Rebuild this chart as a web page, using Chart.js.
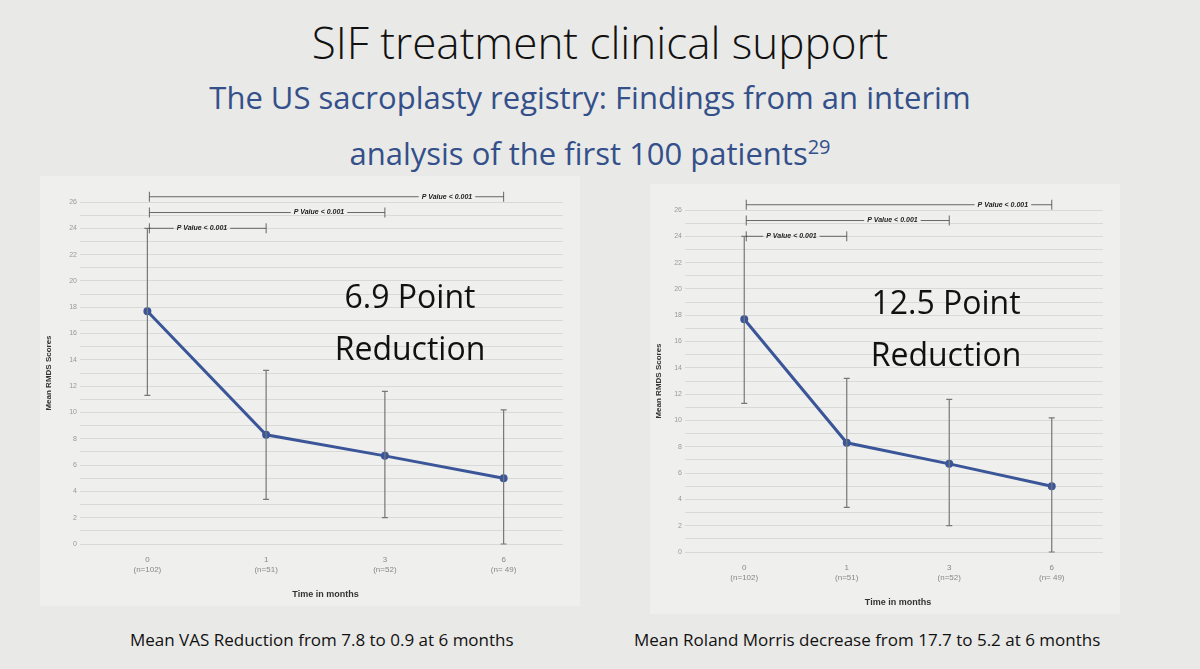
<!DOCTYPE html>
<html><head><meta charset="utf-8">
<script src="https://cdn.jsdelivr.net/npm/chart.js@4"></script>
<style>
body{margin:0;width:1200px;height:669px;background:#e9e9e7;font-family:"Open Sans",Calibri,sans-serif;position:relative;overflow:hidden}
.t{position:absolute;width:1200px;text-align:center}
canvas{position:absolute}
.big{position:absolute;font-family:"Open Sans",sans-serif;font-size:32px;line-height:52px;color:#111;text-align:center}
.cap{position:absolute;font-size:17px;color:#111}
</style></head><body>
<div class="t" style="top:12px;font-size:44px;color:#111;font-weight:300">SIF treatment clinical support</div>
<div class="t" style="top:72px;font-size:31px;line-height:50px;color:#34508a;left:-10px">The US sacroplasty registry: Findings from an interim<br>analysis of the first 100 patients<sup style="font-size:20px">29</sup></div>
<div style="position:absolute;left:40px;top:176px;width:540px;height:430px;background:#efefed"></div>
<div style="position:absolute;left:650px;top:184px;width:470px;height:430px;background:#efefed"></div>
<canvas id="c1" style="left:40px;top:190px;width:530px;height:410px"></canvas>
<canvas id="c2" style="left:650px;top:198px;width:460px;height:410px"></canvas>
<div class="big" style="left:300px;top:270px;width:220px">6.9 Point<br>Reduction</div>
<div class="big" style="left:836px;top:276px;width:220px">12.5 Point<br>Reduction</div>
<div class="cap" style="left:130px;top:628px">Mean VAS Reduction from 7.8 to 0.9 at 6 months</div>
<div class="cap" style="left:634px;top:628px">Mean Roland Morris decrease from 17.7 to 5.2 at 6 months</div>
<script>
const months=["0","1","3","6"];
const nLabels=["(n=102)","(n=51)","(n=52)","(n= 49)"];
const means=[17.7,8.3,6.7,5.0];
const errLow=[11.3,3.4,2.0,0];
const errHigh=[24.0,13.2,11.6,10.2];
const pBrackets=[{from:0,to:1,y:24.0,tx:0.45},{from:0,to:3,y:25.2,tx:0.72},{from:0,to:6,y:26.4,tx:0.84}];

const errPlugin={id:'err',afterDatasetsDraw(ch){
  const c=ch.ctx,x=ch.scales.x,y=ch.scales.y;
  c.save();c.strokeStyle='#777';c.lineWidth=1.2;
  months.forEach((m,i)=>{const px=x.getPixelForValue(i);
    c.beginPath();c.moveTo(px,y.getPixelForValue(errLow[i]));c.lineTo(px,y.getPixelForValue(errHigh[i]));
    c.moveTo(px-3,y.getPixelForValue(errLow[i]));c.lineTo(px+3,y.getPixelForValue(errLow[i]));
    c.moveTo(px-3,y.getPixelForValue(errHigh[i]));c.lineTo(px+3,y.getPixelForValue(errHigh[i]));c.stroke();});
  c.font='italic bold 7px "Liberation Sans"';c.textBaseline='middle';
  pBrackets.forEach(b=>{const x0=x.getPixelForValue(b.from)+2,x1=x.getPixelForValue(months.indexOf(String(b.to))),py=y.getPixelForValue(b.y);
    const label='P Value < 0.001';const w=c.measureText(label).width;const tx=x0+(x1-x0)*b.tx-w/2;
    c.strokeStyle='#444';c.lineWidth=0.8;c.beginPath();
    c.moveTo(x0,py-5);c.lineTo(x0,py+5);c.moveTo(x0,py);c.lineTo(tx-3,py);c.moveTo(tx+w+3,py);c.lineTo(x1,py);
    c.moveTo(x1,py-5);c.lineTo(x1,py+5);c.stroke();c.fillStyle='#222';c.fillText(label,tx,py);});
  c.restore();}};

function make(id,yw,padTop){
  new Chart(document.getElementById(id),{type:'line',
    data:{labels:months.map((m,i)=>[m,nLabels[i]]),datasets:[{data:means,borderColor:'#3b5698',backgroundColor:'#3b5698',borderWidth:3,pointRadius:2.5,tension:0}]},
    options:{responsive:false,animation:false,layout:{padding:{top:padTop,right:2}},
      plugins:{legend:{display:false},tooltip:{enabled:false}},
      scales:{
        x:{offset:true,grid:{display:false},border:{display:false},ticks:{color:'#888',font:{size:8}},
          title:{display:true,text:'Time in months',color:'#333',font:{size:9,weight:'bold'},padding:0},
          afterFit(s){s.height=56;}},
        y:{min:0,max:26,border:{display:false},grid:{color:'rgba(0,0,0,0.09)'},
          ticks:{stepSize:1,autoSkip:false,color:'#999',font:{size:7},callback:v=>v%2===0?v:''},
          title:{display:true,text:'Mean RMDS Scores',color:'#333',font:{size:8,weight:'bold'}},
          afterFit(s){s.width=yw;}}}},
    plugins:[errPlugin]});
}
const c1=document.getElementById('c1');c1.width=530;c1.height=410;
const c2=document.getElementById('c2');c2.width=460;c2.height=410;
make('c1',48,12);
make('c2',43,12);
</script>
</body></html>
